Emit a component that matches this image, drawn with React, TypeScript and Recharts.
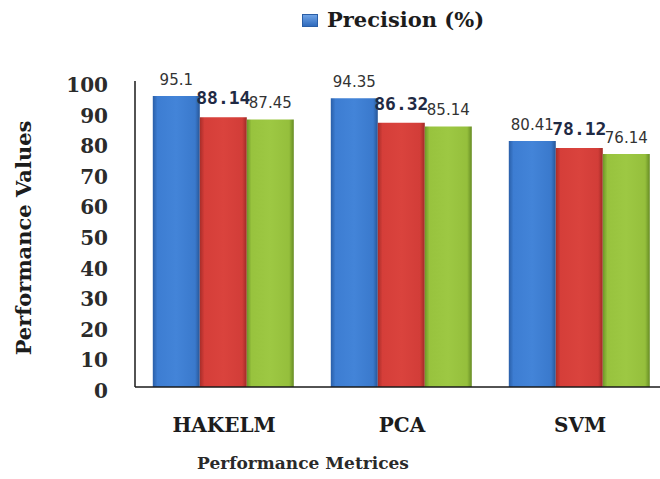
import { Bar, BarChart, LabelList, Legend, XAxis, YAxis } from 'recharts'

const categories = ['HAKELM', 'PCA', 'SVM']
const precisionValues = [95.1, 94.35, 80.41]
const secondValues = [88.14, 86.32, 78.12]
const thirdValues = [87.45, 85.14, 76.14]
const yTicks = [0, 10, 20, 30, 40, 50, 60, 70, 80, 90, 100]
const legendName = 'Precision (%)'
const yTitle = 'Performance Values'
const xTitle = 'Performance Metrices'

const data = categories.map((name, i) => ({
  name,
  precision: precisionValues[i],
  second: secondValues[i],
  third: thirdValues[i],
}))

const serif = '"DejaVu Serif", serif'

function YTick({ x, y, payload }: any) {
  return (
    <text x={x} y={y + 4} textAnchor="end" dominantBaseline="central" fontFamily={serif} fontWeight="bold" fontSize={20} fill="#2b2b2b">
      {payload.value}
    </text>
  )
}

function XTick({ x, y, payload }: any) {
  return (
    <text x={x} y={y} textAnchor="middle" dominantBaseline="central" fontFamily={serif} fontWeight="bold" fontSize={20} fill="#1c1c1c">
      {payload.value}
    </text>
  )
}

function makeLabel(font: string, size: number, color: string, offset: number, weight = 'normal') {
  return (props: any) => {
    const { x, y, width, value } = props
    return (
      <text x={x + width / 2} y={y - offset} textAnchor="middle" fontFamily={font} fontSize={size} fontWeight={weight} fill={color}>
        {value}
      </text>
    )
  }
}

const sansLabel = makeLabel('"DejaVu Sans", sans-serif', 15, '#333', 11)
const monoLabel = makeLabel('"DejaVu Sans Mono", monospace', 18, '#1f2a44', 13, 'bold')

function LegendContent({ payload }: any) {
  const item = payload && payload[0]
  if (!item) return null
  return (
    <div style={{ display: 'flex', alignItems: 'center', paddingLeft: 302, lineHeight: '24px' }}>
      <span style={{ width: 16, height: 13, background: 'linear-gradient(#6fa3e6, #2f6bbd)', border: '1px solid #2a5ea6', boxSizing: 'border-box' }} />
      <span style={{ marginLeft: 9, fontFamily: serif, fontWeight: 'bold', fontSize: 21, color: '#1c1c1c' }}>{item.value}</span>
    </div>
  )
}

export default function App() {
  return (
    <div style={{ position: 'fixed', left: 0, top: 0, width: 660, height: 479, overflow: 'hidden', background: '#fff' }}>
      <BarChart width={680} height={479} data={data} margin={{ top: 81, right: 11, bottom: 32, left: 0 }} barGap={0} barCategoryGap="10%">
        <defs>
          <linearGradient id="gBlue" x1="0" y1="0" x2="1" y2="0">
            <stop offset="0%" stopColor="#2a5fa8" />
            <stop offset="10%" stopColor="#3d7dd2" />
            <stop offset="50%" stopColor="#4384d8" />
            <stop offset="90%" stopColor="#3a79cc" />
            <stop offset="100%" stopColor="#275697" />
          </linearGradient>
          <linearGradient id="gRed" x1="0" y1="0" x2="1" y2="0">
            <stop offset="0%" stopColor="#a82d29" />
            <stop offset="10%" stopColor="#d53e39" />
            <stop offset="50%" stopColor="#da433d" />
            <stop offset="90%" stopColor="#d23d38" />
            <stop offset="100%" stopColor="#9f2a26" />
          </linearGradient>
          <linearGradient id="gGreen" x1="0" y1="0" x2="1" y2="0">
            <stop offset="0%" stopColor="#6e9628" />
            <stop offset="10%" stopColor="#98c33e" />
            <stop offset="50%" stopColor="#9dc843" />
            <stop offset="90%" stopColor="#95bf3c" />
            <stop offset="100%" stopColor="#668c24" />
          </linearGradient>
        </defs>
        <XAxis
          dataKey="name"
          tickSize={0}
          tickMargin={38}
          height={60}
          tick={<XTick />}
          stroke="#1a1a1a"
          strokeWidth={1.5}
          label={{
            content: () => (
              <text x={303} y={463} textAnchor="middle" dominantBaseline="central" fontFamily={serif} fontWeight="bold" fontSize={17} fill="#2a2a2a">
                {xTitle}
              </text>
            ),
          }}
        />
        <YAxis
          domain={[0, 100]}
          ticks={yTicks}
          interval={0}
          width={135}
          tickSize={0}
          tickMargin={27}
          tick={<YTick />}
          stroke="#1a1a1a"
          strokeWidth={1.5}
          label={{
            content: () => (
              <text x={23} y={238} transform="rotate(-90, 23, 238)" textAnchor="middle" dominantBaseline="central" fontFamily={serif} fontWeight="bold" fontSize={21} fill="#1c1c1c">
                {yTitle}
              </text>
            ),
          }}
        />
        <Legend verticalAlign="middle" align="center" wrapperStyle={{ top: 8, left: 0, width: 680 }} content={<LegendContent />} />
        <Bar dataKey="precision" name={legendName} fill="url(#gBlue)" isAnimationActive={false}>
          <LabelList dataKey="precision" content={sansLabel} />
        </Bar>
        <Bar dataKey="second" name="second" legendType="none" fill="url(#gRed)" isAnimationActive={false}>
          <LabelList dataKey="second" content={monoLabel} />
        </Bar>
        <Bar dataKey="third" name="third" legendType="none" fill="url(#gGreen)" isAnimationActive={false}>
          <LabelList dataKey="third" content={sansLabel} />
        </Bar>
      </BarChart>
    </div>
  )
}
